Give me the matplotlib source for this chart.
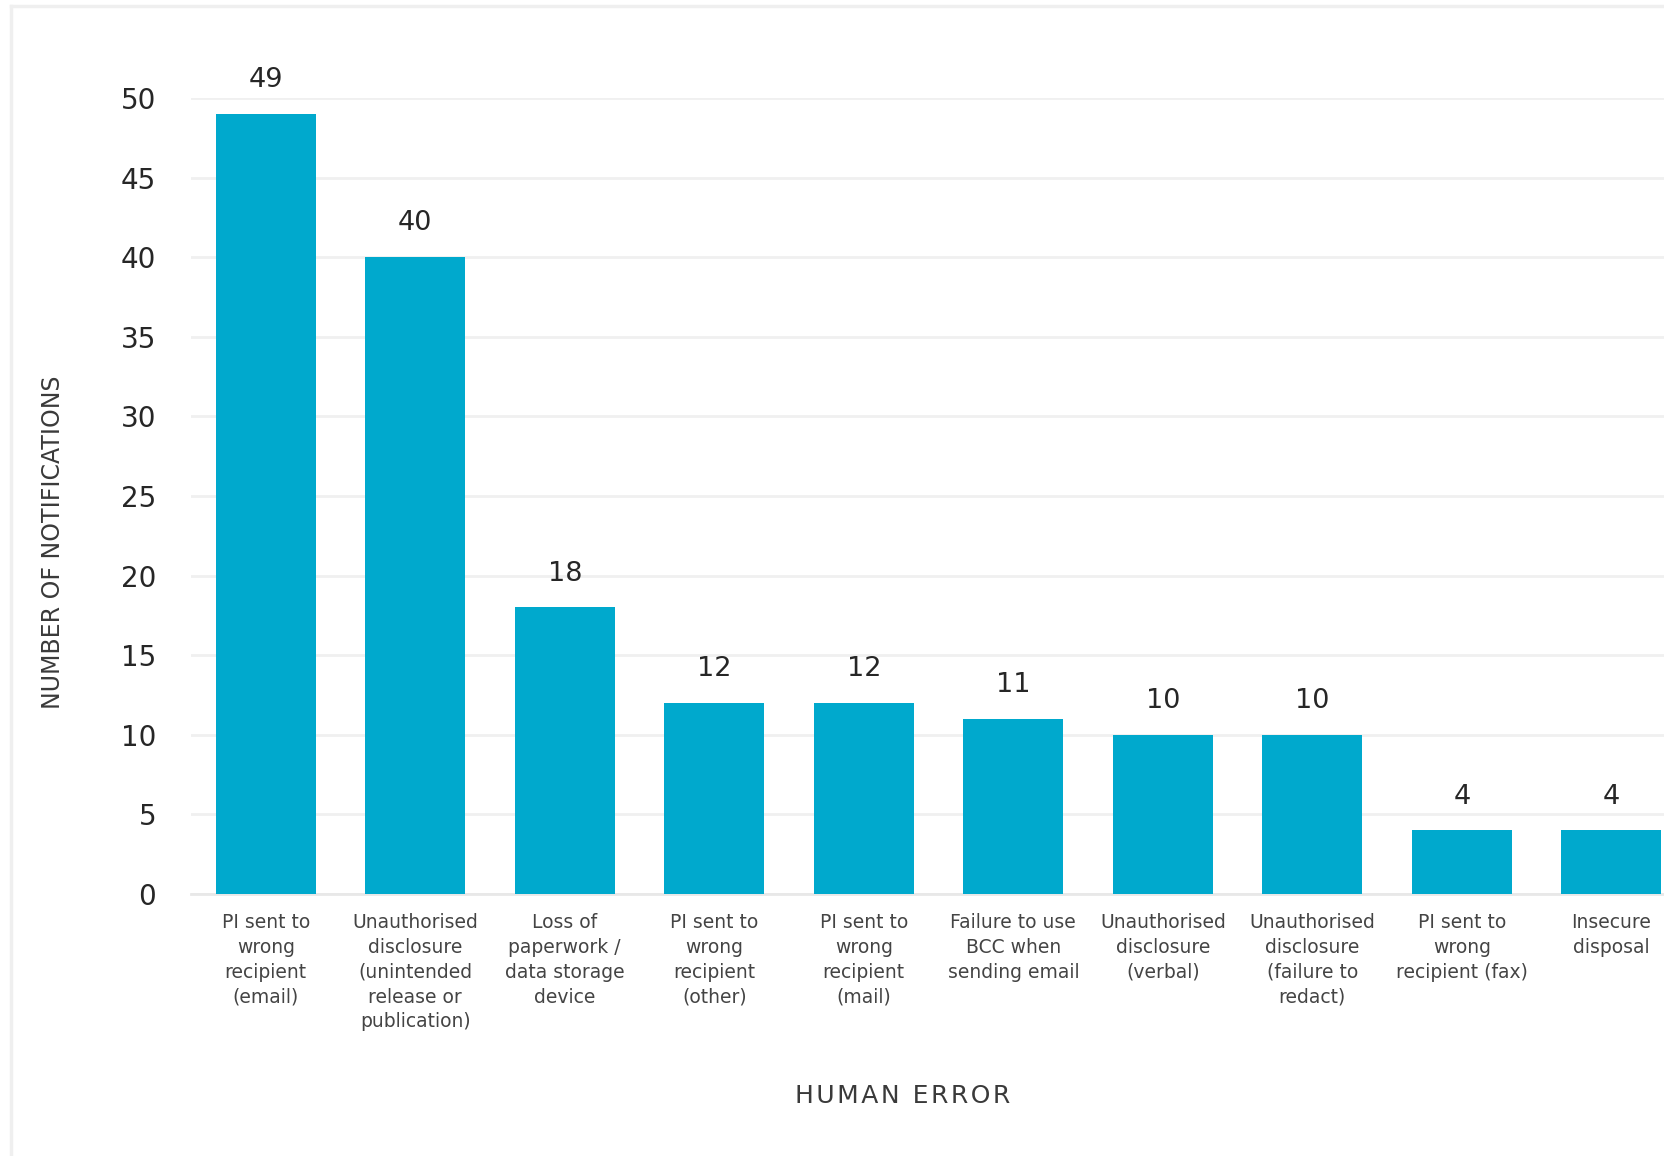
import matplotlib.pyplot as plt
from matplotlib.lines import Line2D

# data
categories = [
    "PI sent to\nwrong\nrecipient\n(email)",
    "Unauthorised\ndisclosure\n(unintended\nrelease or\npublication)",
    "Loss of\npaperwork /\ndata storage\ndevice",
    "PI sent to\nwrong\nrecipient\n(other)",
    "PI sent to\nwrong\nrecipient\n(mail)",
    "Failure to use\nBCC when\nsending email",
    "Unauthorised\ndisclosure\n(verbal)",
    "Unauthorised\ndisclosure\n(failure to\nredact)",
    "PI sent to\nwrong\nrecipient (fax)",
    "Insecure\ndisposal",
]
notifications = [49, 40, 18, 12, 12, 11, 10, 10, 4, 4]
y_ticks = [0, 5, 10, 15, 20, 25, 30, 35, 40, 45, 50]

plt.rcParams['font.family'] = ['DejaVu Sans']

fig = plt.figure(figsize=(16.65, 11.56), dpi=100)
# axes runs past the right edge, the reference is cropped there
ax = fig.add_axes([0.1147, 0.2266, 0.898, 0.6886])

x = list(range(len(categories)))
bars = ax.bar(x, notifications, width=0.67, color='#00a9cd', zorder=3)

for b, v in zip(bars, notifications):
    ax.annotate(str(v), (b.get_x() + b.get_width() / 2, v),
                xytext=(0, 15), textcoords='offset points',
                ha='center', va='bottom', fontsize=19.5, color='#262626',
                annotation_clip=False)

ax.set_xlim(-0.5, len(categories) - 0.5)
ax.set_ylim(0, 50)
ax.set_yticks(y_ticks)
ax.set_xticks(x)
ax.set_xticklabels(categories, fontsize=13.5, color='#444444', linespacing=1.38)
ax.tick_params(axis='x', length=0, pad=14)
ax.tick_params(axis='y', length=0, pad=25, labelsize=20, labelcolor='#262626')

ax.grid(axis='y', color='#f0f0f0', linewidth=2, zorder=0)
for s in ['top', 'right', 'left']:
    ax.spines[s].set_visible(False)
ax.spines['bottom'].set_color('#e8e8e8')
ax.spines['bottom'].set_linewidth(2)

# spaced-out letters like the reference
fig.text(0.542, 0.052, "\u200a".join("HUMAN ERROR"), ha='center', va='center',
         fontsize=18, color='#3a3a3a')
fig.text(0.032, 0.531, "NUMBER OF NOTIFICATIONS", ha='center', va='center',
         rotation=90, fontsize=17, color='#3a3a3a')

# faint outer frame (top and left only, rest is cropped)
fig.add_artist(Line2D([0.0065, 1.0], [0.9945, 0.9945], color='#efefef', linewidth=2.5))
fig.add_artist(Line2D([0.0065, 0.0065], [0.0, 0.9945], color='#efefef', linewidth=2.5))

fig.savefig("out.png", dpi=100)
